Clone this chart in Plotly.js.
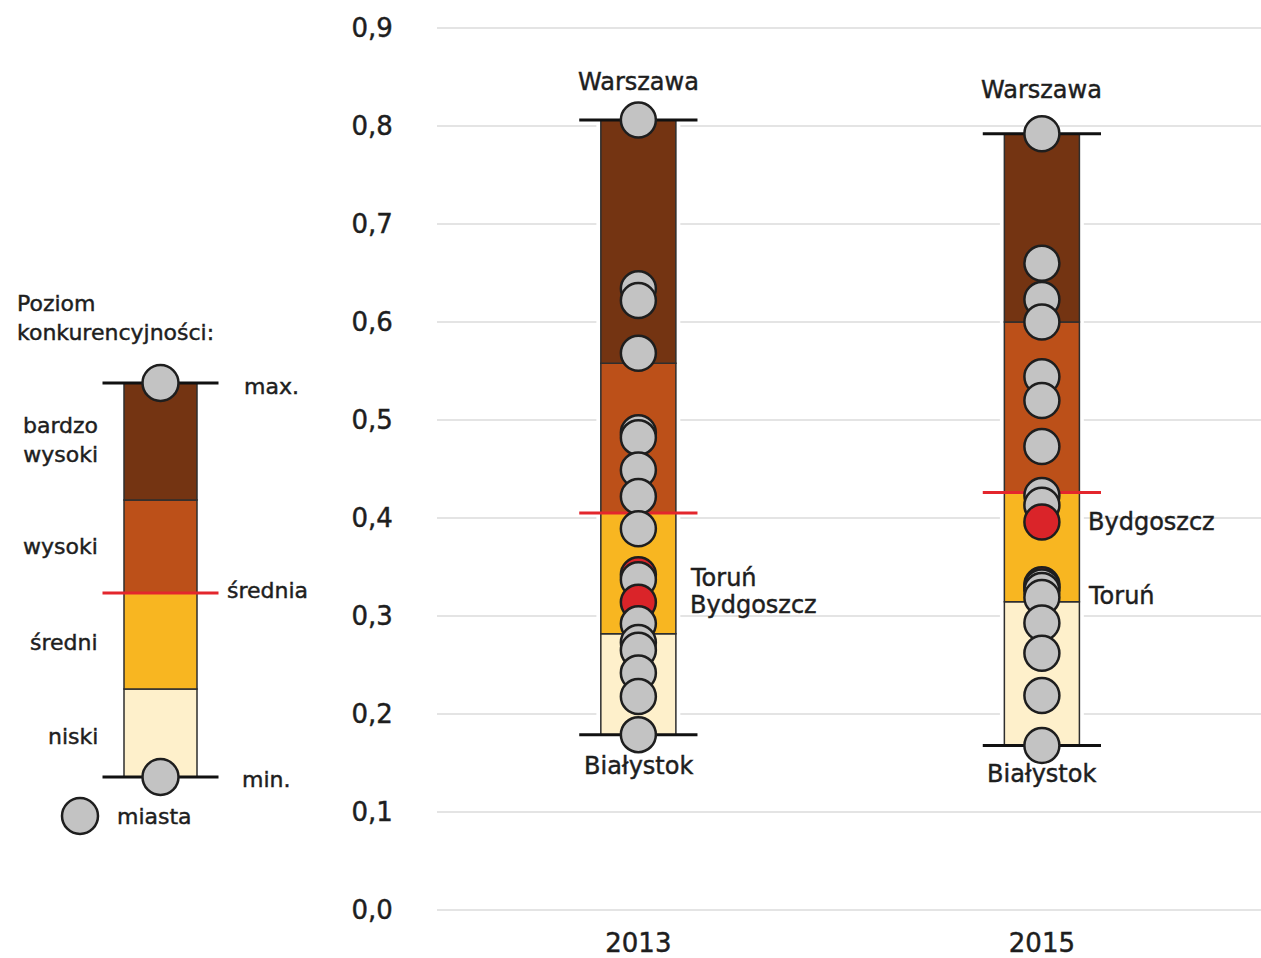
<!DOCTYPE html>
<html>
<head>
<meta charset="utf-8">
<script src="https://cdn.plot.ly/plotly-3.0.1.min.js"></script>
<style>
html,body{margin:0;padding:0;background:#fff;}
#chart{width:1261px;height:958px;}
#chart text{stroke:#1e1e1e;stroke-width:0.45px;}
</style>
</head>
<body>
<div id="chart"></div>
<script>
// ---- data ----
const years = ['2013', '2015'];
const minVals  = [0.179, 0.168];   // Białystok
const q1Vals   = [0.282, 0.3145];  // top of "niski"
const meanVals = [0.405, 0.426];   // średnia (red line)
const q3Vals   = [0.558, 0.600];   // top of "wysoki"
const maxVals  = [0.806, 0.792];   // Warszawa
const levelNames  = ['niski', 'średni', 'wysoki', 'bardzo wysoki'];
const levelColors = ['#FEF0CB', '#F8B621', '#BC5019', '#743412'];

const cities2013 = [0.806, 0.634, 0.622, 0.568, 0.487, 0.482, 0.449, 0.422, 0.389, 0.342, 0.337, 0.314, 0.292, 0.273, 0.265, 0.242, 0.218, 0.179];
const names2013  = ['Warszawa', '', '', '', '', '', '', '', '', 'Toruń', '', 'Bydgoszcz', '', '', '', '', '', 'Białystok'];
const cities2015 = [0.792, 0.660, 0.623, 0.600, 0.544, 0.520, 0.473, 0.423, 0.413, 0.396, 0.332, 0.3295, 0.326, 0.319, 0.293, 0.262, 0.219, 0.168];
const names2015  = ['Warszawa', '', '', '', '', '', '', '', '', 'Bydgoszcz', 'Toruń', '', '', '', '', '', '', 'Białystok'];
const highlighted = ['Bydgoszcz', 'Toruń'];
const yTicks = [0, 0.1, 0.2, 0.3, 0.4, 0.5, 0.6, 0.7, 0.8, 0.9];

// legend schematic (units of the key scale)
const keyBounds = [0, 88, 184, 277, 394];
const keyLabels = ['niski', 'średni', 'wysoki', 'bardzo<br>wysoki'];
const keyLabelPos = [41, 135, 231, 337];

// ---- build ----
const FONT = 'DejaVu Sans';
const TXT = '#1e1e1e';
const GRAY = '#C3C3C3';
const RED = '#DA2429';
const REDLINE = '#E3262D';
const BARW = 0.186;
const LINEW = 0.293;

const xi = years.map((_, i) => i);
const traces = [];

// white backing so gridlines break around the columns
traces.push({
  type: 'bar', x: xi, base: minVals, y: maxVals.map((v, i) => v - minVals[i]),
  width: BARW + 0.022, marker: {color: '#ffffff', line: {width: 0}},
  hoverinfo: 'skip', showlegend: false
});

// stacked level segments
const bounds = [minVals, q1Vals, meanVals, q3Vals, maxVals];
const segX = [], segBase = [], segLen = [], segCol = [];
xi.forEach(i => {
  for (let k = 0; k < 4; k++) {
    segX.push(i); segBase.push(bounds[k][i]);
    segLen.push(bounds[k + 1][i] - bounds[k][i]); segCol.push(levelColors[k]);
  }
});
traces.push({
  type: 'bar', x: segX, base: segBase, y: segLen, width: BARW,
  marker: {color: segCol, line: {color: '#2e2e2e', width: 1.5}},
  hoverinfo: 'skip', showlegend: false
});

// min / max / mean lines
function hline(xc, y, color, xa, ya, half) {
  return {type: 'scatter', mode: 'lines', x: [xc - half, xc + half], y: [y, y],
    xaxis: xa, yaxis: ya, line: {color: color, width: 3}, hoverinfo: 'skip', showlegend: false};
}
xi.forEach(i => {
  traces.push(hline(i, minVals[i], '#111', 'x', 'y', LINEW / 2));
  traces.push(hline(i, maxVals[i], '#111', 'x', 'y', LINEW / 2));
  traces.push(hline(i, meanVals[i], REDLINE, 'x', 'y', LINEW / 2));
});

// city dots (descending so lower dots lie on top)
[[cities2013, names2013], [cities2015, names2015]].forEach(([vals, nms], i) => {
  traces.push({
    type: 'scatter', mode: 'markers', x: vals.map(() => i), y: vals,
    marker: {size: 35, color: nms.map(n => highlighted.includes(n) ? RED : GRAY),
      line: {color: '#1e1e1e', width: 2.5}},
    text: nms, hoverinfo: 'y+text', showlegend: false
  });
});

// ---- key (legend) on its own axes ----
const KX = 160.5;
traces.push({
  type: 'bar', xaxis: 'x2', yaxis: 'y2',
  x: keyBounds.slice(0, 4).map(() => KX), base: keyBounds.slice(0, 4),
  y: keyBounds.slice(1).map((v, k) => v - keyBounds[k]), width: 73,
  marker: {color: levelColors, line: {color: '#2e2e2e', width: 1.5}},
  hoverinfo: 'skip', showlegend: false
});
traces.push(hline(KX, keyBounds[0], '#111', 'x2', 'y2', 58));
traces.push(hline(KX, keyBounds[4], '#111', 'x2', 'y2', 58));
traces.push(hline(KX, keyBounds[2], REDLINE, 'x2', 'y2', 58));
traces.push({
  type: 'scatter', mode: 'markers', xaxis: 'x2', yaxis: 'y2',
  x: [KX, KX, 80], y: [keyBounds[4], keyBounds[0], -39],
  marker: {size: 36, color: GRAY, line: {color: '#1e1e1e', width: 2.5}},
  hoverinfo: 'skip', showlegend: false
});

// ---- annotations ----
const ann = [];
const cityFont = {family: FONT, size: 24, color: TXT};
const shifts = {'2013Toruń': -3, '2013Bydgoszcz': -3, '2015Bydgoszcz': 0, '2015Toruń': -11,
  '2013Warszawa': 38, '2015Warszawa': 44, '2013Białystok': -31, '2015Białystok': -29};
[[cities2013, names2013], [cities2015, names2015]].forEach(([vals, nms], i) => {
  nms.forEach((n, j) => {
    if (!n) return;
    const side = (n === 'Warszawa' || n === 'Białystok');
    ann.push({x: i, y: vals[j], xref: 'x', yref: 'y', text: n, showarrow: false,
      xanchor: side ? 'center' : 'left', xshift: side ? 0 : (i === 0 ? 50 : 44),
      yanchor: 'middle', yshift: shifts[years[i] + n], font: cityFont});
  });
});
const keyFont = {family: FONT, size: 22, color: TXT};
ann.push({x: 15, y: 459, xref: 'x2', yref: 'y2', text: 'Poziom<br>konkurencyjności:',
  showarrow: false, xanchor: 'left', align: 'left', font: keyFont});
keyLabels.forEach((t, k) => ann.push({x: 100, y: keyLabelPos[k], xref: 'x2', yref: 'y2', text: t,
  showarrow: false, xanchor: 'right', align: 'right', font: keyFont}));
ann.push({x: 242, y: 391, xref: 'x2', yref: 'y2', text: 'max.', showarrow: false, xanchor: 'left', font: keyFont});
ann.push({x: 225, y: 187, xref: 'x2', yref: 'y2', text: 'średnia', showarrow: false, xanchor: 'left', font: keyFont});
ann.push({x: 240, y: -2, xref: 'x2', yref: 'y2', text: 'min.', showarrow: false, xanchor: 'left', font: keyFont});
ann.push({x: 115, y: -39, xref: 'x2', yref: 'y2', text: 'miasta', showarrow: false, xanchor: 'left', font: keyFont});

const layout = {
  width: 1261, height: 958,
  margin: {l: 0, r: 0, t: 24, b: 44, pad: 0},
  paper_bgcolor: '#ffffff', plot_bgcolor: '#ffffff',
  separators: ', ',
  barmode: 'overlay',
  showlegend: false,
  font: {family: FONT, color: TXT},
  xaxis: {
    domain: [437 / 1261, 1], range: [-0.499, 1.543], tickvals: xi, ticktext: years,
    showgrid: false, zeroline: false, showline: false,
    ticks: 'outside', ticklen: 6, tickcolor: 'rgba(0,0,0,0)',
    tickfont: {family: FONT, size: 26, color: TXT}, fixedrange: true
  },
  yaxis: {
    range: [-0.004, 0.904], tickvals: yTicks, tickformat: '.1f',
    showgrid: true, gridcolor: '#E4E4E4', gridwidth: 2,
    zeroline: false, showline: false,
    ticks: 'outside', ticklen: 38, tickcolor: 'rgba(0,0,0,0)',
    tickfont: {family: FONT, size: 26, color: TXT}, fixedrange: true
  },
  xaxis2: {domain: [0, 0.3], range: [0, 378.3], visible: false, anchor: 'y2', fixedrange: true},
  yaxis2: {domain: [0, 1], range: [-137, 753], visible: false, anchor: 'x2', fixedrange: true},
  annotations: ann
};

Plotly.newPlot('chart', traces, layout, {displayModeBar: false, responsive: false});
</script>
</body>
</html>
